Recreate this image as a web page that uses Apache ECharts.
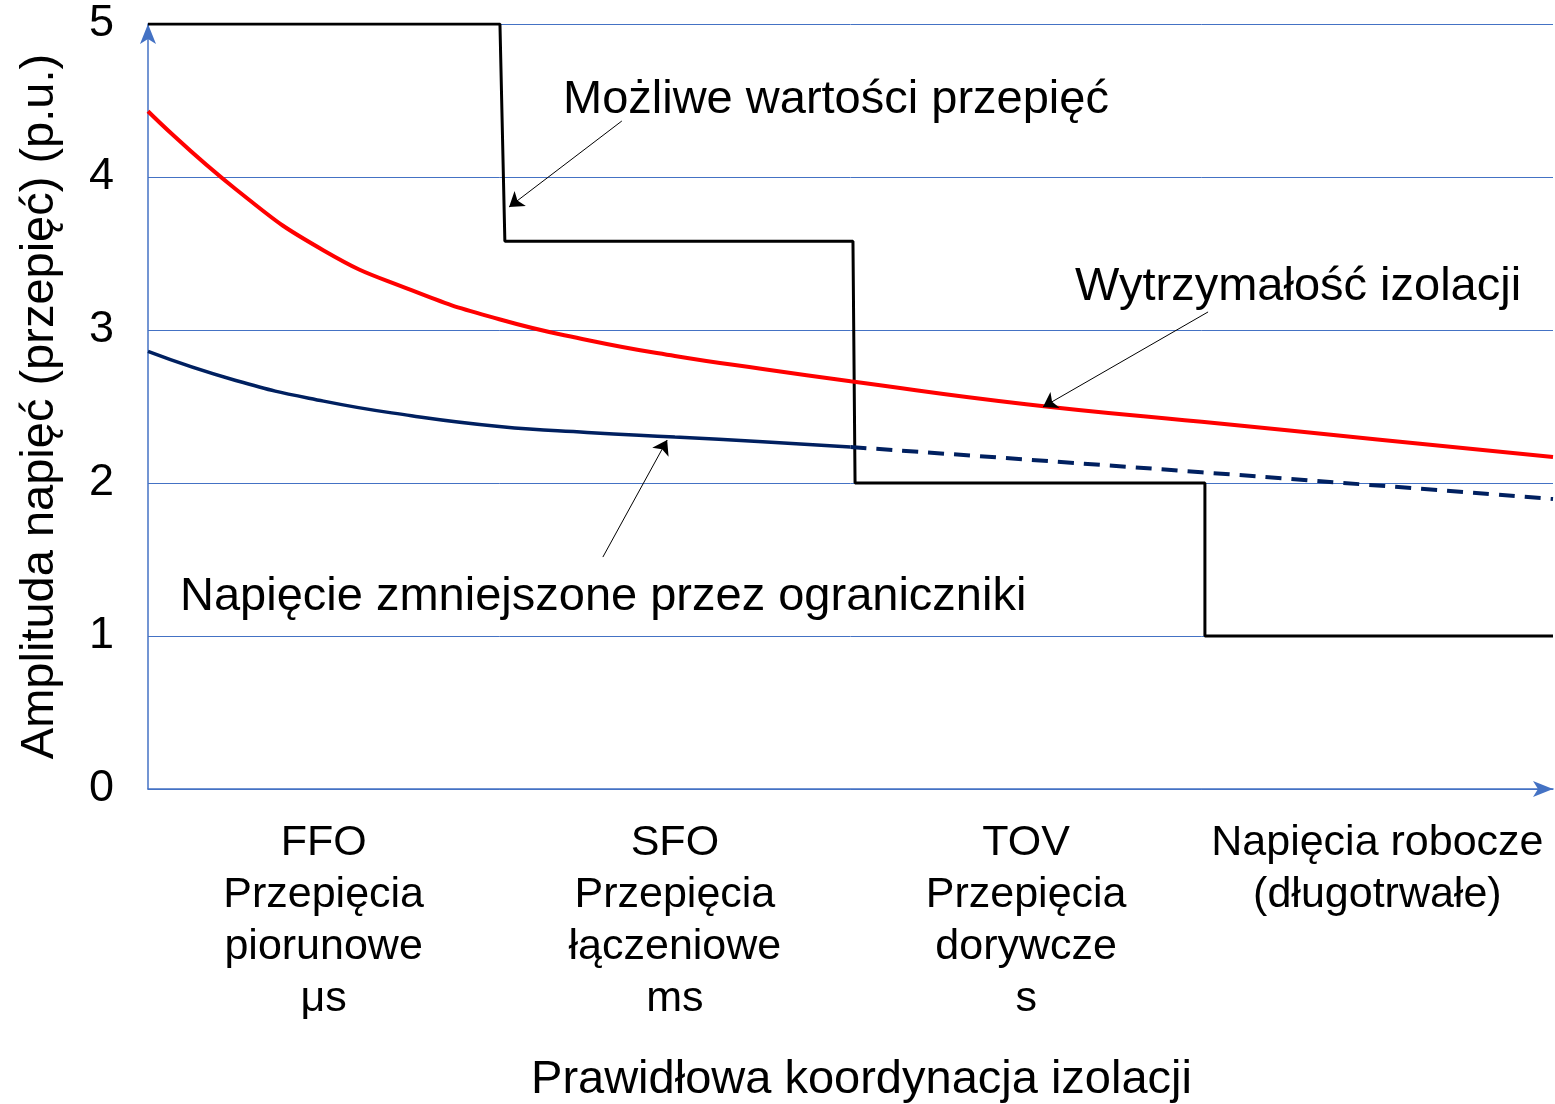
<!DOCTYPE html>
<html lang="pl">
<head>
  <meta charset="utf-8">
  <title>Koordynacja izolacji</title>
  <script src="https://cdn.jsdelivr.net/npm/echarts@6/dist/echarts.min.js"></script>
  <style type="text/css">
    html, body { margin: 0; padding: 0; background: #fff; overflow: hidden; }
    #chart { width: 1555px; height: 1104px; }
  </style>
</head>
<body>
<div id="chart"></div>
<script type="text/javascript">
// obszary na osi X (0..4, jeden na kategorię)
var categories = [
  'FFO\nPrzepięcia\npiorunowe\nμs',
  'SFO\nPrzepięcia\nłączeniowe\nms',
  'TOV\nPrzepięcia\ndorywcze\ns',
  'Napięcia robocze\n(długotrwałe)'
];
var yTicks = [0, 1, 2, 3, 4, 5];

// możliwe wartości przepięć (schodki)
var stepX = [0, 1.002, 1.016, 2.007, 2.013, 3.009, 3.009, 4];
var stepY = [5, 5, 3.58, 3.58, 2.0, 2.0, 1.0, 1.0];

// wytrzymałość izolacji
var redX = [0, 0.25, 0.5, 0.75, 1.0, 1.25, 1.5, 1.75, 2.0, 2.5, 3.0, 3.5, 4.0];
var redY = [4.43, 3.92, 3.52, 3.26, 3.07, 2.935, 2.83, 2.745, 2.665, 2.515, 2.40, 2.285, 2.17];

// napięcie zmniejszone przez ograniczniki
var blueX = [0, 0.25, 0.5, 0.75, 1.0, 1.25, 1.5, 1.75, 2.0];
var blueY = [2.86, 2.67, 2.535, 2.44, 2.37, 2.33, 2.30, 2.27, 2.235];
var dashX = [2.0, 3.0, 4.0];
var dashY = [2.235, 2.07, 1.895];

// strzałki opisów: [x1, y1, x2, y2]
var arrows = [
  [1.349, 4.366, 1.028, 3.804],
  [3.018, 3.118, 2.548, 2.497],
  [1.295, 1.516, 1.478, 2.281]
];

function zip(xs, ys) {
  var out = [];
  for (var i = 0; i < xs.length; i++) out.push([xs[i], ys[i]]);
  return out;
}

var font = 'Liberation Sans, Arial, sans-serif';
var axisBlue = '#4472C4';

var chart = echarts.init(document.getElementById('chart'));

var option = {
  animation: false,
  backgroundColor: '#fff',
  grid: { left: 148, right: 2, top: 24, height: 765, containLabel: false, outerBoundsMode: 'none' },
  xAxis: [
    {
      type: 'value',
      min: 0,
      max: 4,
      name: 'Prawidłowa koordynacja izolacji',
      nameLocation: 'middle',
      nameGap: 268,
      nameTextStyle: { fontFamily: font, fontSize: 47, color: '#000', padding: [0, 0, 0, 22] },
      axisLine: {
        show: true,
        lineStyle: { color: axisBlue, width: 1.5 },
        symbol: ['none', 'arrow'],
        symbolSize: [12, 20]
      },
      axisTick: { show: false },
      axisLabel: { show: false },
      splitLine: { show: false }
    },
    {
      type: 'category',
      position: 'bottom',
      data: categories,
      boundaryGap: true,
      axisLine: { show: false },
      axisTick: { show: false },
      axisLabel: {
        fontFamily: font,
        fontSize: 43,
        lineHeight: 52,
        margin: 28,
        color: '#000',
        interval: 0
      },
      splitLine: { show: false }
    }
  ],
  yAxis: {
    type: 'value',
    min: yTicks[0],
    max: yTicks[yTicks.length - 1],
    interval: 1,
    name: 'Amplituda napięć (przepięć) (p.u.)',
    nameLocation: 'middle',
    nameGap: 84,
    nameTextStyle: { fontFamily: font, fontSize: 47, color: '#000' },
    axisLine: {
      show: true,
      lineStyle: { color: axisBlue, width: 1.5 },
      symbol: ['none', 'arrow'],
      symbolSize: [12, 20]
    },
    axisTick: { show: false },
    axisLabel: { fontFamily: font, fontSize: 45, color: '#000', margin: 34, padding: [10, 0, 0, 0] },
    splitLine: { show: true, lineStyle: { color: axisBlue, width: 1 } }
  },
  series: [
    {
      name: 'Możliwe wartości przepięć',
      type: 'line',
      data: zip(stepX, stepY),
      showSymbol: false,
      lineStyle: { color: '#000', width: 3 },
      z: 3,
      markLine: {
        silent: true,
        symbol: ['none', 'arrow'],
        symbolSize: 14,
        label: { show: false },
        lineStyle: { color: '#000', width: 1, type: 'solid' },
        data: arrows.map(function (a) {
          return [{ coord: [a[0], a[1]] }, { coord: [a[2], a[3]] }];
        })
      }
    },
    {
      name: 'Wytrzymałość izolacji',
      type: 'line',
      smooth: true,
      data: zip(redX, redY),
      showSymbol: false,
      lineStyle: { color: '#FF0000', width: 4 }
    },
    {
      name: 'Napięcie zmniejszone',
      type: 'line',
      smooth: true,
      data: zip(blueX, blueY),
      showSymbol: false,
      lineStyle: { color: '#002060', width: 3.5 }
    },
    {
      name: 'Napięcie zmniejszone (dalej)',
      type: 'line',
      smooth: true,
      data: zip(dashX, dashY),
      showSymbol: false,
      lineStyle: { color: '#002060', width: 4, type: [16, 10] }
    }
  ],
  graphic: [
    {
      type: 'text', x: 563, y: 100,
      style: { text: 'Możliwe wartości przepięć', fontFamily: font, fontSize: 47, fill: '#000', textVerticalAlign: 'middle' }
    },
    {
      type: 'text', x: 1075, y: 287,
      style: { text: 'Wytrzymałość izolacji', fontFamily: font, fontSize: 47, fill: '#000', textVerticalAlign: 'middle' }
    },
    {
      type: 'text', x: 180, y: 597,
      style: { text: 'Napięcie zmniejszone przez ograniczniki', fontFamily: font, fontSize: 47, fill: '#000', textVerticalAlign: 'middle' }
    }
  ]
};

chart.setOption(option);
</script>
</body>
</html>
